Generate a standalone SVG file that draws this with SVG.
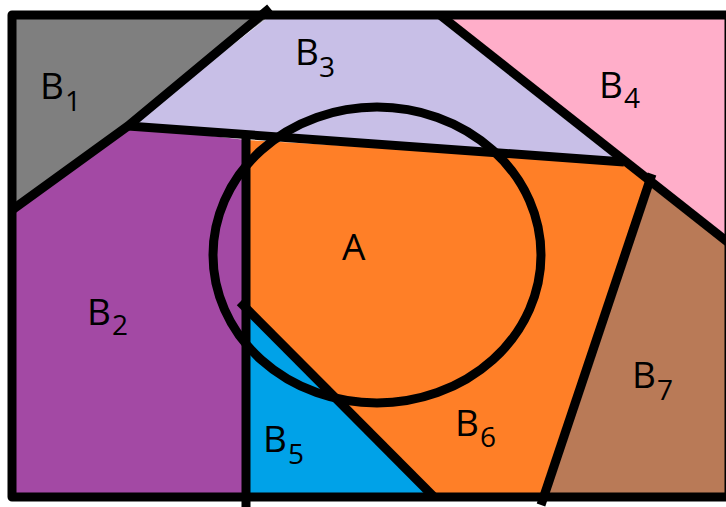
<svg xmlns="http://www.w3.org/2000/svg" width="726" height="507" viewBox="0 0 726 507">
<style>
.ln{fill:none;stroke:#000;stroke-width:9;stroke-linecap:butt;stroke-linejoin:round}
.lb{font-family:"Open Sans","Noto Sans","Liberation Sans",sans-serif;font-size:37px;fill:#000}
.sb{font-size:28px}
</style>
<rect width="726" height="507" fill="#fff"/>
<g id="B1"><polygon points="12,15 271,15 12,210" fill="#7f7f7f"/></g>
<g id="B3"><polygon points="271,15 440,15 624,160 128,126" fill="#c8bfe7"/></g>
<g id="B4"><polygon points="440,15 726,15 726,240 650,180 624,160" fill="#ffaec9"/></g>
<g id="B2"><polygon points="12,210 128,126 246,140 246,497 12,497" fill="#a349a4"/></g>
<g id="B6"><polygon points="246,140 624,162 650,180 541,497 432,497 246,310" fill="#ff7f27"/></g>
<g id="B5"><polygon points="246,310 432,497 246,497" fill="#00a2e8"/></g>
<g id="B7"><polygon points="650,180 726,238 726,497 541,497" fill="#b97a57"/></g>
<g id="connectors">
<rect class="ln" x="12" y="15" width="717" height="482"/>
<path class="ln" d="M270,8 L128,126 L12,210"/>
<path class="ln" d="M128,126 L624,162"/>
<path class="ln" d="M440,15 L730,244"/>
<path class="ln" d="M652,174 L541,505"/>
<path class="ln" d="M246,138 L246,507"/>
<path class="ln" d="M240,302 L434,497"/>
<ellipse id="A" class="ln" cx="377" cy="255" rx="164" ry="148"/>
</g>
<g id="labels">
<text class="lb" x="40" y="99">B<tspan class="sb" x="65" y="111">1</tspan></text>
<text class="lb" x="295" y="65">B<tspan class="sb" x="319" y="77">3</tspan></text>
<text class="lb" x="342" y="260">A</text>
<text class="lb" x="599" y="98">B<tspan class="sb" x="624" y="108">4</tspan></text>
<text class="lb" x="87" y="325">B<tspan class="sb" x="112" y="335">2</tspan></text>
<text class="lb" x="263" y="452">B<tspan class="sb" x="288" y="464">5</tspan></text>
<text class="lb" x="455" y="436">B<tspan class="sb" x="480" y="447">6</tspan></text>
<text class="lb" x="632" y="388">B<tspan class="sb" x="657" y="400">7</tspan></text>
</g>
</svg>
